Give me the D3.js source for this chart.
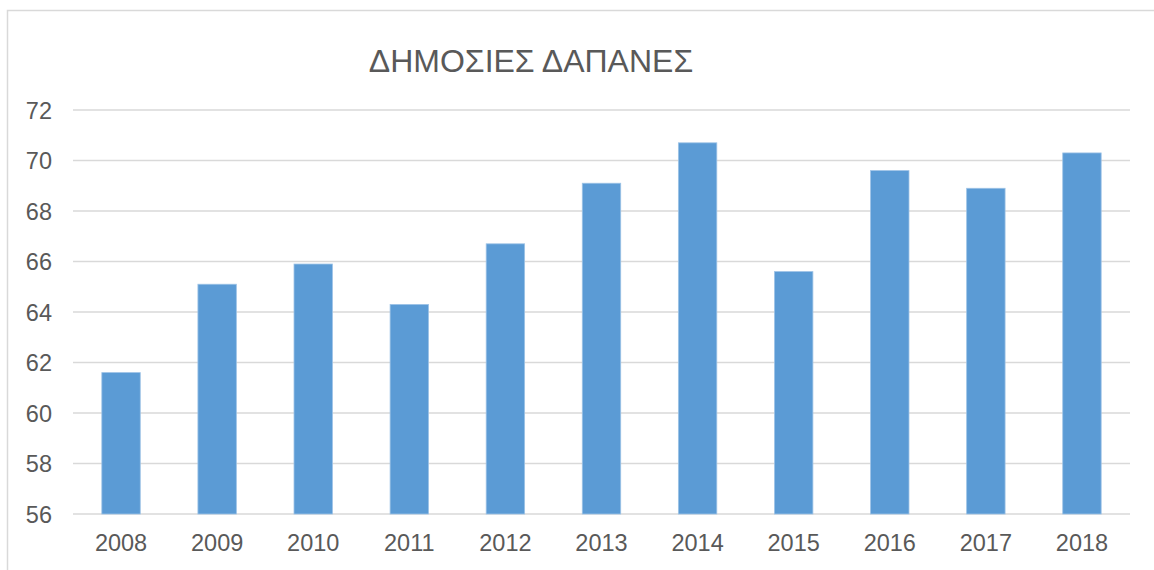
<!DOCTYPE html>
<html>
<head>
<meta charset="utf-8">
<script src="https://cdn.jsdelivr.net/npm/d3@7"></script>
<style>
  html, body { margin: 0; padding: 0; background: #ffffff; }
  svg { display: block; }
</style>
</head>
<body>
<svg id="chart" width="1154" height="570"></svg>
<script>
// Public expenditure by year
const years = ["2008","2009","2010","2011","2012","2013","2014","2015","2016","2017","2018"];
const values = [61.6, 65.1, 65.9, 64.3, 66.7, 69.1, 70.7, 65.6, 69.6, 68.9, 70.3];
const yTicks = [56, 58, 60, 62, 64, 66, 68, 70, 72];
const title = "ΔΗΜΟΣΙΕΣ ΔΑΠΑΝΕΣ";

const svg = d3.select("#chart");
const font = "'Liberation Sans', Arial, sans-serif";
const textColor = "#595959";
const labelSize = 23.5;

// Outer chart frame
svg.append("rect")
  .attr("x", 7.5).attr("y", 10.5)
  .attr("width", 1160).attr("height", 580)
  .attr("fill", "none").attr("stroke", "#d9d9d9").attr("stroke-width", 1.5);

const plot = { left: 73, right: 1130, top: 110, bottom: 514 };

const x = d3.scaleBand()
  .domain(years)
  .range([plot.left, plot.right])
  .paddingInner(0.6)
  .paddingOuter(0.3);

const y = d3.scaleLinear()
  .domain([56, 72])
  .range([plot.bottom, plot.top]);

// Gridlines
svg.append("g")
  .selectAll("line")
  .data(yTicks)
  .join("line")
  .attr("x1", plot.left).attr("x2", plot.right)
  .attr("y1", d => y(d)).attr("y2", d => y(d))
  .attr("stroke", "#d9d9d9").attr("stroke-width", 1.5);

// Bars
svg.append("g")
  .selectAll("rect")
  .data(years.map((yr, i) => ({ yr, v: values[i] })))
  .join("rect")
  .attr("x", d => x(d.yr))
  .attr("width", x.bandwidth())
  .attr("y", d => y(d.v))
  .attr("height", d => y(56) - y(d.v))
  .attr("fill", "#5b9bd5")
  .attr("stroke", "#9dc3e6")
  .attr("stroke-width", 0.8);

// Y axis labels
const yAxis = d3.axisLeft(y).tickValues(yTicks).tickSize(0).tickPadding(0);
svg.append("g")
  .attr("transform", `translate(52,0)`)
  .call(yAxis)
  .call(g => g.select(".domain").remove())
  .call(g => g.selectAll("text")
    .attr("font-family", font).attr("font-size", labelSize)
    .attr("fill", textColor).attr("dy", "0.35em"));

// X axis labels
const xAxis = d3.axisBottom(x).tickSize(0).tickPadding(0);
svg.append("g")
  .attr("transform", `translate(0,551)`)
  .call(xAxis)
  .call(g => g.select(".domain").remove())
  .call(g => g.selectAll("text")
    .attr("font-family", font).attr("font-size", labelSize)
    .attr("fill", textColor).attr("dy", "0"));

// Title
svg.append("text")
  .attr("x", 531).attr("y", 72)
  .attr("text-anchor", "middle")
  .attr("font-family", font).attr("font-size", 32)
  .attr("fill", textColor)
  .text(title);
</script>
</body>
</html>
